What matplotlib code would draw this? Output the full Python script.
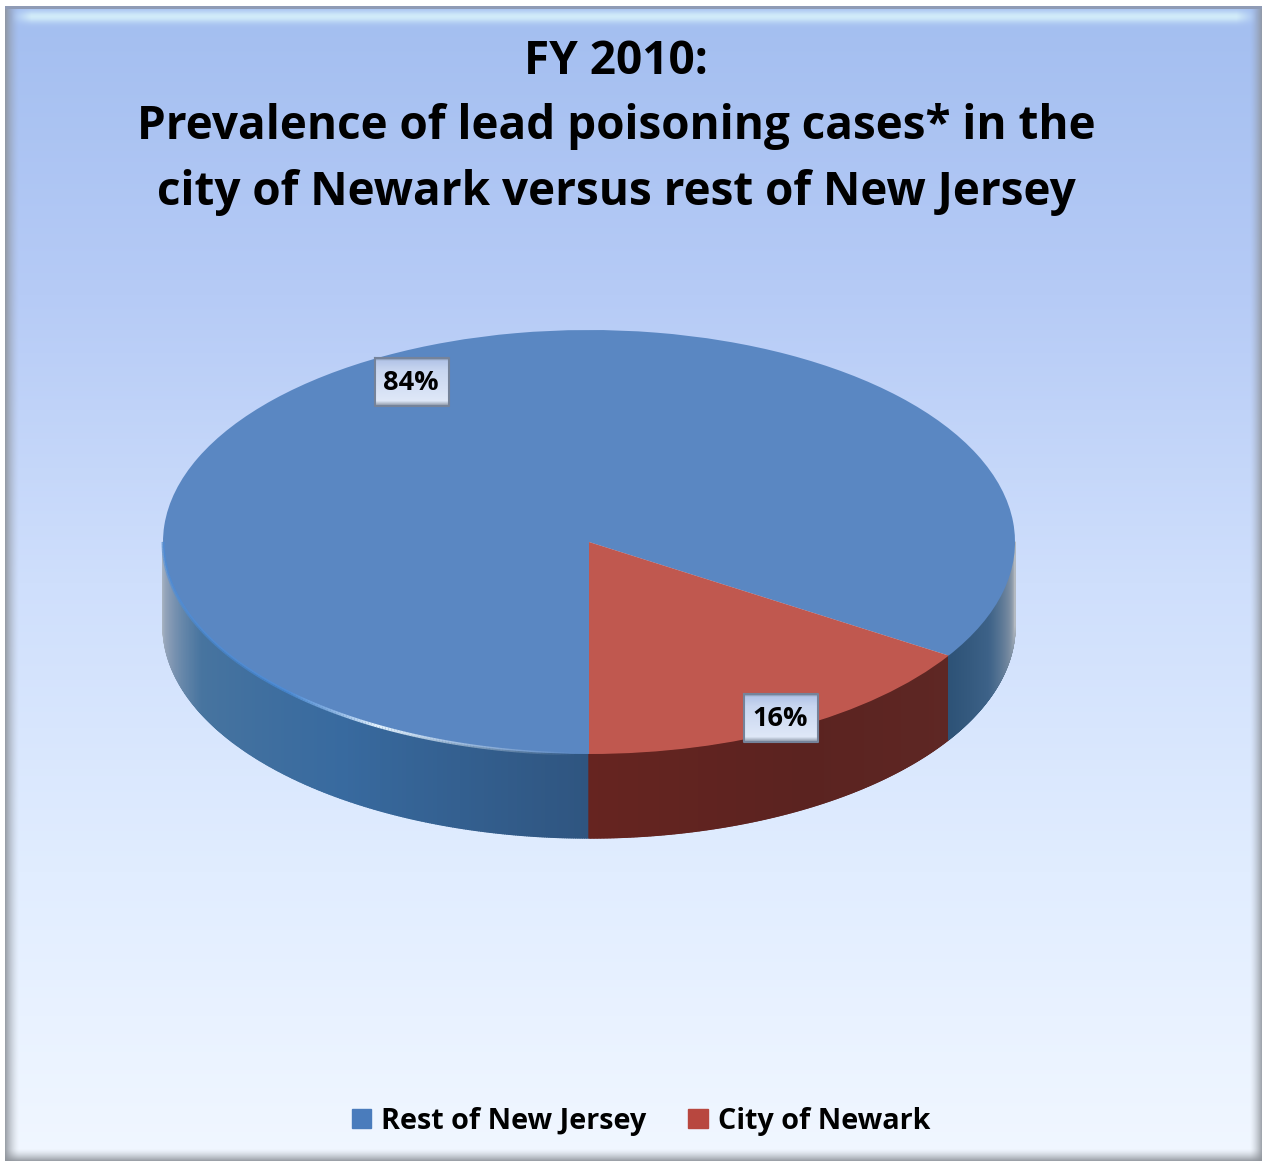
import numpy as np
import matplotlib
matplotlib.use("Agg")
import matplotlib.pyplot as plt
from matplotlib.collections import PolyCollection, LineCollection
from matplotlib.colors import to_rgb
from matplotlib.patches import Patch

W, H = 1264, 1164

title_lines = ["FY 2010:",
               "Prevalence of lead poisoning cases* in the",
               "city of Newark versus rest of New Jersey"]
categories = ["Rest of New Jersey", "City of Newark"]
shares = [84, 16]
share_labels = ["84%", "16%"]
colors = ["#5a87c2", "#c0584f"]

plt.rcParams["font.family"] = ["Open Sans", "DejaVu Sans"]
plt.rcParams["font.weight"] = "bold"


def vgrad(stops, n):
    pos = [s[0] for s in stops]
    rgb = np.array([to_rgb(s[1]) for s in stops])
    t = np.linspace(0, 1, n)
    return np.stack([np.interp(t, pos, rgb[:, i]) for i in range(3)], axis=1)


def background():
    img = np.ones((H, W, 3))
    x0, x1, y0, y1 = 5, 1262, 6, 1161
    col = vgrad([(0, "#a3bef0"), (0.25, "#b6cbf6"), (0.5, "#cfdffc"),
                 (0.75, "#e1edff"), (1, "#f1f7ff")], y1 - y0)
    panel = np.repeat(col[:, None, :], x1 - x0, axis=1)
    yy, xx = np.mgrid[0:y1 - y0, 0:x1 - x0]
    # bevel round the panel
    grey = np.array(to_rgb("#8d9299"))
    for dist, depth, strength in [(xx, 14, 0.85), (x1 - x0 - 1 - xx, 12, 0.8),
                                  (y1 - y0 - 1 - yy, 12, 0.85)]:
        a = np.clip(1 - dist / depth, 0, 1)[..., None] ** 1.5 * strength
        panel = panel * (1 - a) + grey * a
    glow = np.array(to_rgb("#d6f0fa"))
    a = np.exp(-((yy - 10) / 6.0) ** 2)[..., None] * 0.9
    a = a * np.clip((xx - 6) / 20, 0, 1)[..., None] * np.clip((x1 - x0 - 6 - xx) / 20, 0, 1)[..., None]
    panel = panel * (1 - a) + glow * a
    panel[:3] = to_rgb("#8f9bb5")
    img[y0:y1, x0:x1] = panel
    return img


fig = plt.figure(figsize=(W / 100, H / 100), dpi=100)

ax_bg = fig.add_axes([0, 0, 1, 1])
ax_bg.imshow(background(), extent=(0, W, H, 0), aspect="auto", interpolation="bilinear")
ax_bg.set_xlim(0, W)
ax_bg.set_ylim(H, 0)
ax_bg.axis("off")

# pie axes, one data unit is one radius of the ellipse
cx, cy, rx, ry, depth = 589, 542, 426, 212, 84 / 212
xlim = (-1.1, 1.1)
ylim = (-1.6, 1.1)
left = cx + xlim[0] * rx
bottom = H - (cy - ylim[0] * ry)
ax = fig.add_axes([left / W, bottom / H, (xlim[1] - xlim[0]) * rx / W,
                   (ylim[1] - ylim[0]) * ry / H])
ax.patch.set_alpha(0)

# City of Newark ends at the 6 o'clock line
start = 270 - 360 * sum(shares[:1]) / sum(shares)
wedges, _ = ax.pie(shares, colors=colors, startangle=start, radius=1,
                   wedgeprops={"linewidth": 0})
ax.set_aspect("auto")
ax.set_xlim(*xlim)
ax.set_ylim(*ylim)
boundary = start % 360


def wall(t0, t1, ang, cols):
    th = np.linspace(t0, t1, 300)
    rgb = np.array([to_rgb(c) for c in cols])
    polys, fc = [], []
    for a, b in zip(th[:-1], th[1:]):
        ra, rb = np.radians([a, b])
        polys.append([(np.cos(ra), np.sin(ra)), (np.cos(rb), np.sin(rb)),
                      (np.cos(rb), np.sin(rb) - depth), (np.cos(ra), np.sin(ra) - depth)])
        m = (a + b) / 2
        fc.append([np.interp(m, ang, rgb[:, i]) for i in range(3)])
    ax.add_collection(PolyCollection(polys, facecolors=fc, edgecolors=fc, linewidths=1.0, zorder=0))


wall(180, 270, [180, 190, 205, 235, 270], ["#b4bcc6", "#8a9db6", "#47749f", "#386a9f", "#2f5580"])
wall(270, boundary, [270, 300, boundary], ["#662420", "#5b2320", "#5e2724"])
wall(boundary, 360, [boundary, 340, 352, 360], ["#2d5276", "#3d6288", "#7d8fa3", "#b3b9c0"])

# bright rim on the front of the top face
th = np.radians(np.linspace(180, 268, 200))
pts = np.column_stack([np.cos(th), np.sin(th)])
segs = np.stack([pts[:-1], pts[1:]], axis=1)
deg = np.degrees(th[:-1])
rim = np.interp(deg, [180, 215, 232, 240, 252, 268], [0.6, 0.55, 0.75, 1, 0.5, 0])
rim_rgb = np.array([np.interp(deg, [180, 225, 240], [c0, c0, c1])
                    for c0, c1 in zip(to_rgb("#4a8fe0"), to_rgb("#e6f4ff"))]).T
ax.add_collection(LineCollection(segs, colors=np.column_stack([rim_rgb, rim]), linewidths=2.2, zorder=3))

# overlay in image pixels for labels and title
ov = fig.add_axes([0, 0, 1, 1], zorder=5)
ov.set_xlim(0, W)
ov.set_ylim(H, 0)
ov.axis("off")

label_xy = [(412, 382), (781, 718)]
for lab, (lx, ly) in zip(share_labels, label_xy):
    box = vgrad([(0, "#7f90a6"), (0.05, "#b4c5e8"), (0.25, "#c8d6f0"), (0.9, "#dfe8f8"), (1, "#8e99a8")], 48)
    ov.imshow(box[:, None, :], extent=(lx - 37, lx + 37, ly + 24, ly - 24), aspect="auto", zorder=4)
    ov.plot([lx - 37, lx + 37, lx + 37, lx - 37, lx - 37],
            [ly - 24, ly - 24, ly + 24, ly + 24, ly - 24], color="#75839a", lw=1.5, zorder=5)
    ov.text(lx - 1, ly + 1, lab, fontsize=19.5, color="black", ha="center", va="center", zorder=6)
ov.set_xlim(0, W)
ov.set_ylim(H, 0)

for line, ly in zip(title_lines, [61, 126, 193]):
    ov.text(616, ly, line, fontsize=33, color="black", ha="center", va="center")

handles = [Patch(facecolor=c, edgecolor=c) for c in ["#4a7cbc", "#b8473f"]]
fig.legend(handles, categories, loc="center", bbox_to_anchor=(641 / W, 1 - 1121 / H), ncol=2,
           frameon=False, fontsize=20.7, handlelength=0.68, handleheight=0.68,
           handletextpad=0.35, columnspacing=1.45)

fig.savefig("out.png", dpi=100)
